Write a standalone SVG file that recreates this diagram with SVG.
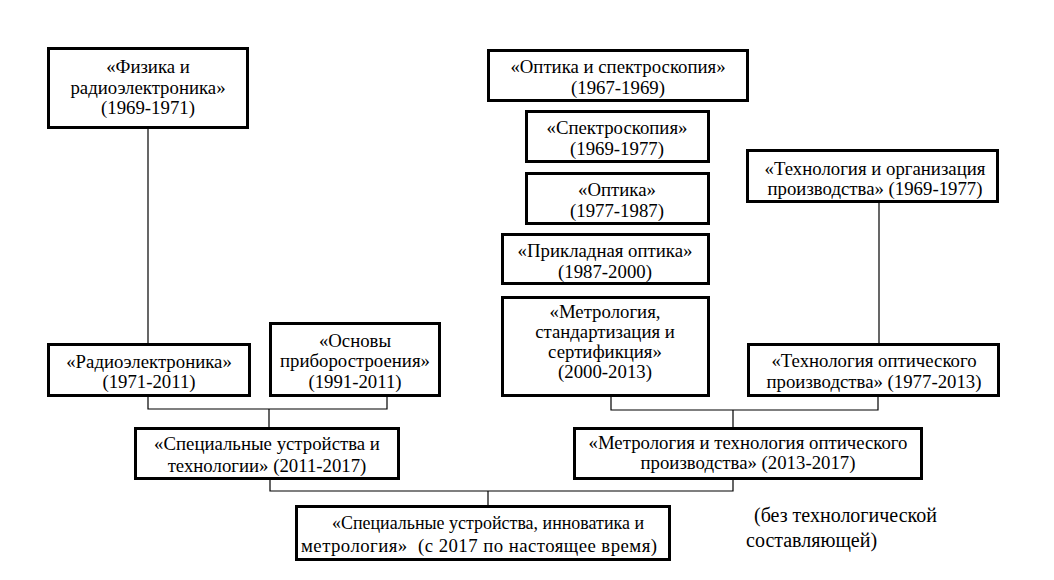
<svg xmlns="http://www.w3.org/2000/svg" width="1054" height="580" viewBox="0 0 1054 580">
<style>
.box{fill:#fff;stroke:#000;stroke-width:3}
.t{font-family:"Liberation Serif","Times New Roman",serif;font-size:18.8px;fill:#000;text-anchor:middle}
.n{font-family:"Liberation Serif","Times New Roman",serif;font-size:20px;fill:#000}
.c{fill:none;stroke:#000;stroke-width:1.2}
</style>
<rect width="1054" height="580" fill="#fff"/>
<g id="connectors">
<path class="c" d="M148,129V343"/>
<path class="c" d="M879,203V343"/>
<path class="c" d="M148,397V409H387V397M269,409V427"/>
<path class="c" d="M611,396V410H878V397M733,410V427"/>
<path class="c" d="M270,479V491H733V479M488,491V505"/>
</g>
<g id="fizika">
<rect class="box" x="48.5" y="48.5" width="199" height="79"/>
<text class="t" x="148" y="73">«Физика и</text>
<text class="t" x="148" y="94">радиоэлектроника»</text>
<text class="t" x="148" y="114">(1969-1971)</text>
</g>
<g id="optika-spektr">
<rect class="box" x="488.5" y="50.5" width="259" height="50"/>
<text class="t" x="618" y="73">«Оптика и спектроскопия»</text>
<text class="t" x="618" y="94">(1967-1969)</text>
</g>
<g id="spektr">
<rect class="box" x="526.5" y="111.5" width="182" height="50"/>
<text class="t" x="617" y="134">«Спектроскопия»</text>
<text class="t" x="617" y="155">(1969-1977)</text>
</g>
<g id="optika">
<rect class="box" x="526.5" y="173.5" width="182" height="50"/>
<text class="t" x="617" y="196">«Оптика»</text>
<text class="t" x="617" y="217">(1977-1987)</text>
</g>
<g id="prikl">
<rect class="box" x="502.5" y="234.5" width="206" height="49"/>
<text class="t" x="605" y="257">«Прикладная оптика»</text>
<text class="t" x="605" y="278">(1987-2000)</text>
</g>
<g id="metrologiya">
<rect class="box" x="502.5" y="297.5" width="206" height="98"/>
<text class="t" x="605" y="318">«Метрология,</text>
<text class="t" x="605" y="338">стандартизация и</text>
<text class="t" x="605" y="358">сертификция»</text>
<text class="t" x="605" y="378">(2000-2013)</text>
</g>
<g id="tehn-org">
<rect class="box" x="747.5" y="150.5" width="250" height="51"/>
<text class="t" x="875" y="175">«Технология и организация</text>
<text class="t" x="875" y="195">производства» (1969-1977)</text>
</g>
<g id="radio">
<rect class="box" x="48.5" y="344.5" width="201" height="51"/>
<text class="t" x="149" y="368">«Радиоэлектроника»</text>
<text class="t" x="149" y="388">(1971-2011)</text>
</g>
<g id="osnovy">
<rect class="box" x="270.5" y="323.5" width="169" height="72"/>
<text class="t" x="355" y="347">«Основы</text>
<text class="t" x="355" y="367">приборостроения»</text>
<text class="t" x="355" y="388">(1991-2011)</text>
</g>
<g id="tehn-opt">
<rect class="box" x="748.5" y="344.5" width="250" height="51"/>
<text class="t" x="874" y="367">«Технология оптического</text>
<text class="t" x="874" y="388">производства» (1977-2013)</text>
</g>
<g id="spec-ustr">
<rect class="box" x="135.5" y="428.5" width="263" height="50"/>
<text class="t" x="267" y="450">«Специальные устройства и</text>
<text class="t" x="267" y="472">технологии» (2011-2017)</text>
</g>
<g id="metr-tehn">
<rect class="box" x="574.5" y="428.5" width="347" height="50"/>
<text class="t" x="748" y="449">«Метрология и технология оптического</text>
<text class="t" x="748" y="469">производства» (2013-2017)</text>
</g>
<g id="spec-innov">
<rect class="box" x="296.5" y="506.5" width="373" height="53"/>
<text class="t" x="488" y="529" textLength="312" lengthAdjust="spacingAndGlyphs">«Специальные устройства, инноватика и</text>
<text class="t" x="479" y="552" textLength="356" lengthAdjust="spacing" style="white-space:pre">метрология»  (с 2017 по настоящее время)</text>
</g>
<g id="note">
<text class="n" x="754" y="522">(без технологической</text>
<text class="n" x="746" y="547">составляющей)</text>
</g>
</svg>
